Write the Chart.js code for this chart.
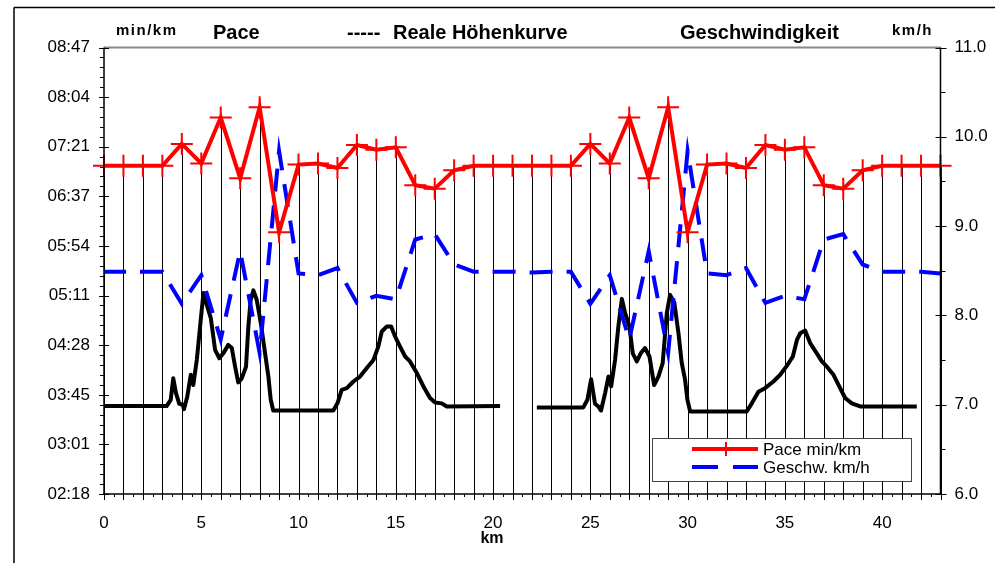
<!DOCTYPE html>
<html lang="de">
<head>
<meta charset="utf-8">
<title>Pace / Geschwindigkeit</title>
<script src="https://cdn.jsdelivr.net/npm/chart.js@4/dist/chart.umd.min.js"></script>
<style>
  html, body { margin: 0; padding: 0; background: #fff; }
  #wrap { width: 995px; height: 563px; position: relative; }
</style>
</head>
<body>
<div id="wrap"><canvas id="chart"></canvas></div>
<script>
// Kilometerpunkte
const kmPunkte = [0, 1, 2, 3, 4, 5, 6, 7, 8, 9, 10, 11, 12, 13, 14, 15, 16, 17, 18, 19, 20, 21,
  22, 23, 24, 25, 26, 27, 28, 29, 30, 31, 32, 33, 34, 35, 36, 37, 38, 39, 40, 41, 42, 43];

// Pace in Sekunden pro km
const paceSek = [424, 424, 424, 424, 443, 426, 466, 413, 475, 366, 425, 426, 422, 442, 438, 440, 407, 404, 420, 424, 424,
  424, 424, 424, 424, 443, 426, 466, 413, 475, 366, 425, 426, 422, 442, 438, 440, 407, 404, 420, 424, 424, 424, 424];

// Geschwindigkeit km/h
const geschw = [8.49, 8.49, 8.49, 8.49, 8.13, 8.45, 7.73, 8.72, 7.58, 9.84, 8.47, 8.45, 8.53, 8.14, 8.22, 8.18, 8.85, 8.91, 8.57, 8.49, 8.49,
  8.49, 8.48, 8.49, 8.49, 8.13, 8.45, 7.73, 8.72, 7.58, 9.84, 8.47, 8.45, 8.53, 8.14, 8.22, 8.18, 8.85, 8.91, 8.57, 8.49, 8.49, 8.49, 8.47];

// Reale Höhenkurve (relative Höhe, 0-100 über die Plothöhe)
const hoeheKm = [0, 3.22, 3.43, 3.56, 3.70, 3.87, 4.05, 4.11, 4.28, 4.46, 4.59, 4.77, 4.94, 5.11, 5.28, 5.49, 5.71, 5.93, 6.13, 6.39,
  6.57, 6.74, 6.90, 7.08, 7.30, 7.42, 7.54, 7.68, 7.85, 8.06, 8.28, 8.45, 8.57, 8.70, 11.79, 12.00, 12.22, 12.48, 12.82, 13.16,
  13.51, 13.85, 14.10, 14.28, 14.53, 14.76, 14.96, 15.22, 15.48, 15.73, 16.08, 16.42, 16.76, 17.02, 17.36, 17.62, 20.36,
  21.3,
  22.25, 24.64, 24.85, 25.04, 25.24, 25.41, 25.55, 25.76, 25.93, 26.07, 26.27, 26.44, 26.62, 26.79, 27.01, 27.18, 27.39, 27.59,
  27.81, 28.04, 28.28, 28.50, 28.72, 28.93, 29.10, 29.32, 29.53, 29.70, 29.87, 29.99, 30.13, 33.04, 33.30, 33.64, 33.98, 34.41,
  34.76, 35.10, 35.41, 35.62, 35.79, 36.04, 36.30, 36.64, 36.90, 37.16, 37.50, 37.84, 38.10, 38.44, 38.87, 41.78];
const hoeheRel = [19.7, 19.7, 21.1, 25.9, 22.6, 20.2, 20.0, 19.0, 21.8, 26.7, 24.4, 30.0, 37.5, 45.0, 42.4, 39.4, 32.3, 30.4, 31.5, 33.4,
  32.7, 28.5, 25.0, 25.9, 28.5, 37.5, 43.5, 45.6, 43.5, 38.3, 31.5, 26.3, 21.1, 18.7, 18.7, 20.3, 23.3, 23.7, 25.2, 26.3,
  28.2, 30.0, 33.0, 36.4, 37.5, 37.5, 35.3, 33.0, 30.8, 29.7, 27.1, 24.1, 21.5, 20.5, 20.3, 19.6, 19.7,
  null,
  19.4, 19.4, 21.1, 25.7, 20.2, 19.6, 18.7, 22.6, 26.3, 24.1, 30.0, 37.5, 43.7, 40.5, 37.5, 31.5, 29.7, 31.5,
  32.7, 30.8, 24.4, 26.3, 29.3, 40.5, 44.6, 42.8, 36.0, 29.3, 25.6, 21.1, 18.5, 18.5, 20.3, 22.9, 23.7, 25.2,
  26.7, 28.7, 30.8, 34.5, 36.0, 36.6, 33.8, 31.5, 29.7, 28.5, 26.7, 23.7, 21.5, 20.3, 19.6, 19.6];

// Achsen-Ticks
const paceTickSek = [138, 181.2, 224.4, 267.7, 310.9, 354.1, 397.3, 440.6, 483.8, 527];
const paceTickLabels = ['02:18', '03:01', '03:45', '04:28', '05:11', '05:54', '06:37', '07:21', '08:04', '08:47'];
const speedTicks = [6, 7, 8, 9, 10, 11];
const kmTicks = [0, 5, 10, 15, 20, 25, 30, 35, 40];

const FONT = '"Liberation Sans", Arial, sans-serif';
const ROT = '#ff0000';
const BLAU = '#0000ff';

function linie(ctx, x1, y1, x2, y2) {
  ctx.beginPath();
  ctx.moveTo(x1, y1);
  ctx.lineTo(x2, y2);
  ctx.stroke();
}

const rahmenPlugin = {
  id: 'rahmen',
  beforeDraw(chart) {
    const ctx = chart.ctx;
    ctx.save();
    // äußerer Rahmen (nur links/oben sichtbar)
    ctx.strokeStyle = '#000';
    ctx.lineWidth = 1.5;
    linie(ctx, 14, 7.5, 995, 7.5);
    linie(ctx, 14, 7.5, 14, 563);
    ctx.restore();
  },
  beforeDatasetsDraw(chart) {
    // Lotlinien von jedem Pace-Punkt zur x-Achse
    const ctx = chart.ctx;
    const area = chart.chartArea;
    const meta = chart.getDatasetMeta(0);
    ctx.save();
    ctx.strokeStyle = '#000';
    ctx.lineWidth = 1;
    meta.data.forEach(p => {
      const x = Math.round(p.x) + 0.5;
      linie(ctx, x, p.y, x, area.bottom);
    });
    ctx.restore();
  },
  afterDatasetsDraw(chart) {
    const ctx = chart.ctx;
    const area = chart.chartArea;
    const yP = chart.scales.yPace;
    const yS = chart.scales.ySpeed;
    const xS = chart.scales.x;
    ctx.save();

    // Achsenlinien
    ctx.strokeStyle = '#888';
    ctx.lineWidth = 2;
    linie(ctx, area.left, area.top, area.right, area.top);
    ctx.strokeStyle = '#000';
    ctx.lineWidth = 1.5;
    linie(ctx, area.left, area.top, area.left, area.bottom + 1);
    linie(ctx, area.right, area.top, area.right, area.bottom + 1);
    linie(ctx, area.left - 1, area.bottom, area.right + 1, area.bottom);

    // Tickstriche links
    ctx.lineWidth = 1;
    paceTickSek.forEach((v, i) => {
      const y = Math.round(yP.getPixelForValue(v)) + 0.5;
      linie(ctx, area.left - 5, y, area.left + 5, y);
      if (i < paceTickSek.length - 1) {
        for (let k = 1; k < 5; k++) {
          const ym = Math.round(yP.getPixelForValue(v + (paceTickSek[i + 1] - v) * k / 5)) + 0.5;
          linie(ctx, area.left - 4, ym, area.left, ym);
        }
      }
    });
    // Tickstriche rechts
    speedTicks.forEach((v, i) => {
      const y = Math.round(yS.getPixelForValue(v)) + 0.5;
      linie(ctx, area.right - 5, y, area.right + 6, y);
      if (i < speedTicks.length - 1) {
        const ym = Math.round(yS.getPixelForValue(v + 0.5)) + 0.5;
        linie(ctx, area.right, ym, area.right + 5, ym);
      }
    });
    // Tickstriche unten
    kmPunkte.forEach((v, i) => {
      const x = Math.round(xS.getPixelForValue(v)) + 0.5;
      linie(ctx, x, area.bottom, x, area.bottom + 6);
      if (i < kmPunkte.length - 1) {
        const xm = Math.round(xS.getPixelForValue(v + 0.5)) + 0.5;
        linie(ctx, xm, area.bottom, xm, area.bottom + 3);
      }
    });

    // Legende
    const lx = 652, ly = 438, lw = 259, lh = 43;
    ctx.fillStyle = '#fff';
    ctx.fillRect(lx, ly, lw, lh);
    ctx.strokeStyle = '#444';
    ctx.lineWidth = 1;
    ctx.strokeRect(lx + 0.5, ly + 0.5, lw, lh);

    ctx.strokeStyle = ROT;
    ctx.lineWidth = 4;
    linie(ctx, 692, 449, 758, 449);
    ctx.lineWidth = 2;
    linie(ctx, 726, 442, 726, 456);

    ctx.strokeStyle = BLAU;
    ctx.lineWidth = 4;
    ctx.setLineDash([26, 15]);
    linie(ctx, 692, 467, 758, 467);
    ctx.setLineDash([]);

    ctx.fillStyle = '#000';
    ctx.font = '17px ' + FONT;
    ctx.textBaseline = 'middle';
    ctx.textAlign = 'left';
    ctx.fillText('Pace min/km', 763, 450);
    ctx.fillText('Geschw. km/h', 763, 468);
    ctx.restore();
  },
  afterDraw(chart) {
    const ctx = chart.ctx;
    ctx.save();
    ctx.fillStyle = '#000';
    ctx.textBaseline = 'middle';
    ctx.textAlign = 'left';

    ctx.font = 'bold 15px ' + FONT;
    ctx.letterSpacing = '1.5px';
    ctx.fillText('min/km', 116, 31);
    ctx.fillText('km/h', 892, 31);
    ctx.letterSpacing = '0px';

    ctx.font = 'bold 20px ' + FONT;
    ctx.fillText('Pace', 213, 33);
    ctx.fillText('-----', 347, 33);
    ctx.fillText('Reale Höhenkurve', 393, 33);
    ctx.fillText('Geschwindigkeit', 680, 33);

    ctx.font = 'bold 16px ' + FONT;
    ctx.textAlign = 'center';
    ctx.fillText('km', 492, 539);
    ctx.restore();
  }
};

new Chart(document.getElementById('chart'), {
  type: 'line',
  data: {
    datasets: [
      {
        label: 'Pace min/km',
        data: kmPunkte.map((k, i) => ({ x: k, y: paceSek[i] })),
        yAxisID: 'yPace',
        borderColor: ROT,
        borderWidth: 4,
        pointStyle: 'cross',
        pointRadius: 11,
        pointBorderWidth: 2,
        pointBorderColor: ROT,
        pointBackgroundColor: ROT,
        tension: 0,
        clip: false
      },
      {
        label: 'Geschw. km/h',
        data: kmPunkte.map((k, i) => ({ x: k, y: geschw[i] })),
        yAxisID: 'ySpeed',
        borderColor: BLAU,
        borderWidth: 4,
        borderDash: [23, 14],
        borderDashOffset: 1,
        pointRadius: 0,
        tension: 0
      },
      {
        label: 'Reale Höhenkurve',
        data: hoeheKm.map((k, i) => ({ x: k, y: hoeheRel[i] })),
        yAxisID: 'yHoehe',
        borderColor: '#000',
        borderWidth: 4,
        borderJoinStyle: 'round',
        pointRadius: 0,
        tension: 0,
        spanGaps: false
      }
    ]
  },
  options: {
    responsive: true,
    maintainAspectRatio: false,
    animation: false,
    layout: { padding: { top: 47.5, left: 0, right: 0, bottom: 0 } },
    plugins: {
      legend: { display: false },
      tooltip: { enabled: false }
    },
    scales: {
      x: {
        type: 'linear',
        min: 0,
        max: 43,
        grid: { display: false, drawTicks: false },
        border: { display: false },
        afterBuildTicks: (s) => { s.ticks = kmTicks.map(v => ({ value: v })); },
        afterFit: (s) => { s.height = 69; },
        ticks: {
          color: '#000',
          padding: 19,
          maxRotation: 0,
          font: { family: FONT, size: 17 },
          callback: (v) => String(v)
        }
      },
      yPace: {
        type: 'linear',
        position: 'left',
        min: 138,
        max: 527,
        grid: { display: false, drawTicks: false },
        border: { display: false },
        afterBuildTicks: (s) => { s.ticks = paceTickSek.map(v => ({ value: v })); },
        afterFit: (s) => { s.width = 104; },
        ticks: {
          color: '#000',
          padding: 14,
          font: { family: FONT, size: 17 },
          callback: (v) => paceTickLabels[paceTickSek.indexOf(v)]
        }
      },
      ySpeed: {
        type: 'linear',
        position: 'right',
        min: 6,
        max: 11,
        grid: { display: false, drawTicks: false },
        border: { display: false },
        afterBuildTicks: (s) => { s.ticks = speedTicks.map(v => ({ value: v })); },
        afterFit: (s) => { s.width = 54.5; },
        ticks: {
          color: '#000',
          padding: 14,
          font: { family: FONT, size: 17 },
          callback: (v) => Number(v).toFixed(1)
        }
      },
      yHoehe: {
        type: 'linear',
        display: false,
        min: 0,
        max: 100
      }
    }
  },
  plugins: [rahmenPlugin]
});
</script>
</body>
</html>
